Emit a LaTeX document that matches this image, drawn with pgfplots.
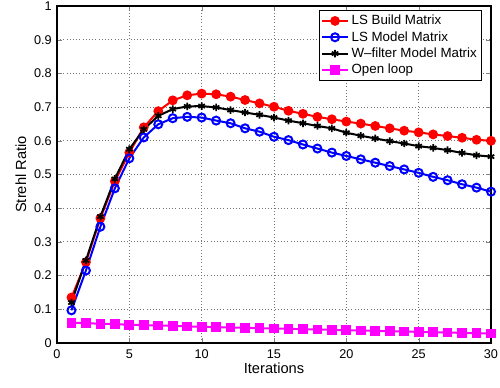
\documentclass[border=0pt]{standalone}
\usepackage{pgfplots}
\pgfplotsset{compat=1.18}
\usepackage{fontspec}
\setmainfont{Liberation Sans}
\definecolor{mred}{rgb}{1,0,0}
\definecolor{mblue}{rgb}{0,0,1}
\definecolor{mmag}{rgb}{1,0,1}
\begin{document}
\begin{tikzpicture}
\path[use as bounding box] (-42.75pt,-33.75pt) rectangle (332.25pt,257.25pt);
\begin{axis}[
  at={(0,0)}, anchor=south west,
  scale only axis,
  width=325.5pt, height=252.75pt,
  xmin=0, xmax=30, ymin=0, ymax=1,
  xtick={0,5,...,30},
  ytick={0,0.1,...,1},
  yticklabels={0,0.1,0.2,0.3,0.4,0.5,0.6,0.7,0.8,0.9,1},
  tick align=inside,
  tick pos=both,
  major tick length=3.5pt,
  grid=major,
  major grid style={black!55, dotted, line width=0.6pt},
  axis line style={line width=0.8pt},
  /pgf/number format/assume math mode=true,
  tick label style={font=\fontsize{9.5}{11}\selectfont},
  yticklabel style={xshift=-0.5pt},
  xticklabel style={yshift=-1.5pt},
  label style={font=\fontsize{11}{13}\selectfont},
  xlabel={Iterations},
  ylabel={Strehl Ratio},
  xlabel style={yshift=4pt},
  ylabel style={yshift=-1pt},
  legend style={at={(0.979,0.988)}, anchor=north east, draw=black, line width=0.6pt,
    font=\fontsize{10}{12}\selectfont, inner sep=1.5pt, row sep=-0.5pt, cells={anchor=west}},
  legend cell align=left,
  legend image code/.code={\draw[mark repeat=2,mark phase=2] plot coordinates {(0cm,0cm) (0.34cm,0cm) (0.68cm,0cm)};},
  every axis plot/.append style={line width=1.5pt},
]
\addplot[mred, mark=*, mark size=2.9pt] coordinates {
(1,0.135)(2,0.240)(3,0.370)(4,0.480)(5,0.565)(6,0.640)(7,0.688)(8,0.720)(9,0.735)(10,0.740)
(11,0.738)(12,0.731)(13,0.721)(14,0.711)(15,0.701)(16,0.689)(17,0.680)(18,0.671)(19,0.664)(20,0.657)
(21,0.651)(22,0.644)(23,0.637)(24,0.630)(25,0.625)(26,0.619)(27,0.614)(28,0.609)(29,0.603)(30,0.600)};
\addlegendentry{LS Build Matrix}
\addplot[mblue, mark=o, mark size=3pt, mark options={line width=1.5pt}] coordinates {
(1,0.097)(2,0.215)(3,0.345)(4,0.459)(5,0.548)(6,0.610)(7,0.649)(8,0.667)(9,0.671)(10,0.669)
(11,0.660)(12,0.652)(13,0.637)(14,0.627)(15,0.612)(16,0.602)(17,0.589)(18,0.577)(19,0.565)(20,0.555)
(21,0.545)(22,0.535)(23,0.525)(24,0.515)(25,0.505)(26,0.493)(27,0.483)(28,0.471)(29,0.461)(30,0.449)};
\addlegendentry{LS Model Matrix}
\addplot[black, mark=asterisk, mark size=2.8pt, mark options={line width=1.3pt}] coordinates {
(1,0.120)(2,0.245)(3,0.375)(4,0.487)(5,0.575)(6,0.634)(7,0.674)(8,0.694)(9,0.702)(10,0.703)
(11,0.699)(12,0.691)(13,0.684)(14,0.677)(15,0.669)(16,0.660)(17,0.652)(18,0.644)(19,0.637)(20,0.624)
(21,0.615)(22,0.607)(23,0.599)(24,0.592)(25,0.584)(26,0.579)(27,0.572)(28,0.564)(29,0.557)(30,0.553)};
\addlegendentry{W\textendash filter Model Matrix}
\addplot[mmag, mark=square*, mark size=2.9pt] coordinates {
(1,0.060)(2,0.059)(3,0.057)(4,0.056)(5,0.054)(6,0.053)(7,0.052)(8,0.051)(9,0.049)(10,0.048)
(11,0.047)(12,0.046)(13,0.045)(14,0.044)(15,0.043)(16,0.042)(17,0.041)(18,0.040)(19,0.039)(20,0.038)
(21,0.037)(22,0.036)(23,0.035)(24,0.034)(25,0.033)(26,0.032)(27,0.031)(28,0.030)(29,0.029)(30,0.028)};
\addlegendentry{Open loop}
\end{axis}
\end{tikzpicture}
\end{document}
